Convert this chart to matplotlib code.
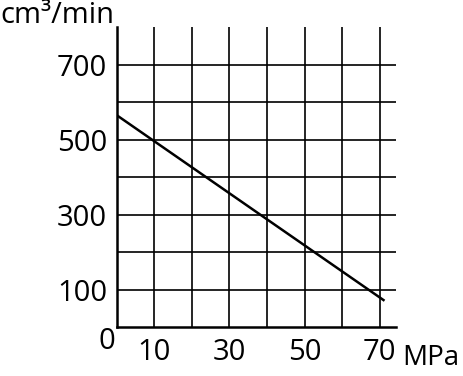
import numpy as np
import matplotlib.pyplot as plt

plt.rcParams['font.family'] = ['Open Sans', 'DejaVu Sans']

# pressure (MPa) vs flow (cm3/min)
pressure = [0, 71.3]
flow = [565, 70]

x_grid = [10, 20, 30, 40, 50, 60, 70]
x_labels = ['10', '', '30', '', '50', '', '70']
y_grid = [100, 200, 300, 400, 500, 600, 700]
y_labels = ['100', '', '300', '', '500', '', '700']

fig = plt.figure(figsize=(4.64, 3.76), dpi=100)
ax = fig.add_axes([0.2515, 0.1303, 0.853 - 0.2515, 0.928 - 0.1303])

ax.plot(pressure, flow, color='black', lw=1.8, solid_capstyle='butt')

ax.set_xlim(0, 74.3)
ax.set_ylim(0, 800)
ax.set_xticks(x_grid)
ax.set_xticklabels(x_labels)
ax.set_yticks(y_grid)
ax.set_yticklabels(y_labels)
ax.tick_params(length=0, labelsize=21, colors='black')
ax.tick_params(axis='x', pad=8)
ax.tick_params(axis='y', pad=7)
ax.grid(True, color='black', lw=1.2)
ax.set_axisbelow(True)

for s in ['top', 'right']:
    ax.spines[s].set_visible(False)
for s in ['left', 'bottom']:
    ax.spines[s].set_linewidth(1.8)

fig.text(0.249, 0.093, '0', fontsize=21, ha='right', va='center')
fig.text(0.99, 0.03, 'MPa', fontsize=20, ha='right', va='baseline')
fig.text(0.0, 0.94, 'cm³/min', fontsize=21, ha='left', va='baseline')

fig.savefig('out.png', dpi=100)
